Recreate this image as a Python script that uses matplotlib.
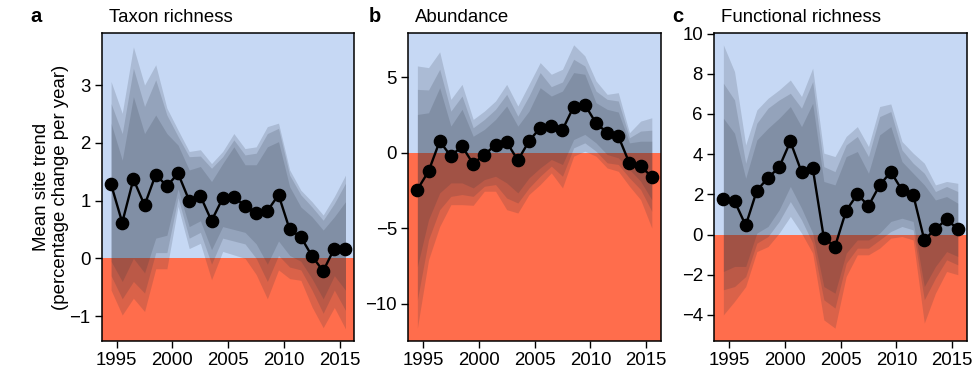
import matplotlib
matplotlib.use("Agg")
import matplotlib.pyplot as plt
import numpy as np

plt.rcParams['font.family'] = ['Liberation Sans', 'DejaVu Sans']

years = [1994.5 + i for i in range(22)]
xticks = [1995, 2000, 2005, 2010, 2015]

# Panel a: Taxon richness
a_mean = [1.28, 0.62, 1.37, 0.92, 1.45, 1.25, 1.47, 1.0, 1.08, 0.65, 1.04,
          1.07, 0.9, 0.78, 0.82, 1.1, 0.5, 0.37, 0.04, -0.22, 0.17, 0.16]
a_up3 = [3.06, 2.51, 3.66, 3.0, 3.35, 2.6, 2.22, 1.85, 1.88, 1.64, 1.85,
         2.16, 1.9, 1.93, 2.28, 2.34, 1.53, 1.18, 0.98, 0.75, 1.07, 1.44]
a_up2 = [2.68, 2.16, 3.29, 2.63, 3.09, 2.48, 2.11, 1.76, 1.77, 1.56, 1.76,
         2.05, 1.79, 1.82, 2.16, 2.25, 1.44, 1.1, 0.89, 0.66, 0.95, 1.3]
a_up1 = [2.34, 1.7, 2.8, 2.16, 2.48, 2.16, 1.96, 1.53, 1.59, 1.33, 1.64,
         1.93, 1.62, 1.62, 1.93, 2.02, 1.24, 0.89, 0.72, 0.49, 0.72, 0.98]
a_lo1 = [-0.05, -0.4, 0.0, -0.25, 0.35, 0.4, 1.2, 0.55, 0.65, 0.15, 0.55,
         0.5, 0.45, 0.25, -0.1, 0.3, 0.05, -0.05, -0.35, -0.7, -0.3, -0.55]
a_lo2 = [-0.3, -0.7, -0.4, -0.6, 0.1, 0.1, 1.05, 0.35, 0.45, -0.1, 0.35,
         0.3, 0.25, 0.0, -0.4, 0.05, -0.15, -0.2, -0.55, -0.95, -0.55, -0.9]
a_lo3 = [-0.55, -0.98, -0.69, -0.92, -0.18, -0.18, 0.9, 0.17, 0.26, -0.37, 0.12,
         0.06, 0.0, -0.28, -0.7, -0.2, -0.35, -0.38, -0.84, -1.2, -0.85, -1.22]

# Panel b: Abundance
b_mean = [-2.43, -1.22, 0.77, -0.22, 0.44, -0.73, -0.11, 0.51, 0.71, -0.49, 0.77,
          1.66, 1.75, 1.53, 3.05, 3.19, 1.97, 1.33, 1.1, -0.69, -0.88, -1.59]
b_up3 = [5.75, 5.64, 6.68, 3.54, 4.53, 2.21, 2.76, 3.43, 4.53, 3.1, 4.53,
         5.97, 5.2, 5.53, 7.15, 6.42, 4.76, 3.87, 3.98, 1.33, 2.1, 2.32]
b_up2 = [4.2, 4.16, 5.53, 2.76, 3.76, 1.66, 2.21, 2.88, 3.87, 2.43, 3.76,
         5.31, 4.38, 4.69, 6.19, 5.75, 4.09, 3.54, 3.43, 1.0, 1.44, 1.5]
b_up1 = [2.54, 2.65, 4.31, 1.77, 2.88, 1.1, 1.55, 2.21, 3.1, 1.77, 2.76,
         4.31, 3.76, 4.09, 5.31, 5.2, 3.32, 2.88, 2.7, 0.66, 0.77, 0.77]
b_lo1 = [-7.52, -4.42, -2.65, -1.99, -1.99, -2.32, -1.77, -1.55, -1.99, -2.65, -1.66,
         -1.0, -0.44, -0.77, 0.88, 1.22, 0.66, -0.11, -0.33, -1.1, -1.88, -3.1]
b_lo2 = [-9.73, -5.75, -3.76, -2.88, -2.76, -2.88, -2.21, -2.1, -2.99, -3.32, -2.32,
         -1.55, -0.88, -1.55, 0.33, 0.66, 0.11, -0.66, -0.77, -1.66, -2.43, -3.87]
b_lo3 = [-11.6, -7.08, -4.87, -3.43, -3.43, -3.47, -2.54, -2.54, -3.76, -3.98, -2.76,
         -2.1, -1.33, -2.32, -0.22, 0.11, -0.22, -1.0, -1.22, -2.21, -3.1, -4.98]

# Panel c: Functional richness
c_mean = [1.77, 1.67, 0.45, 2.19, 2.82, 3.35, 4.63, 3.12, 3.32, -0.17, -0.6,
          1.19, 2.0, 1.43, 2.45, 3.12, 2.21, 1.99, -0.27, 0.28, 0.75, 0.27]
c_up3 = [9.44, 8.11, 4.46, 6.2, 6.78, 7.2, 7.69, 6.87, 8.28, 4.05, 3.88,
         4.88, 5.37, 4.38, 6.37, 6.5, 4.63, 4.05, 3.55, 2.47, 2.64, 2.55]
c_up2 = [7.53, 6.7, 3.55, 5.54, 6.29, 6.7, 7.03, 6.29, 7.61, 3.38, 3.13,
         4.46, 4.88, 3.88, 5.87, 6.12, 4.21, 3.55, 3.05, 2.14, 2.39, 2.14]
c_up1 = [5.79, 5.04, 2.8, 4.71, 5.29, 5.79, 6.37, 5.37, 6.53, 2.64, 2.47,
         3.88, 4.13, 3.05, 4.96, 5.37, 3.63, 3.05, 2.47, 1.72, 1.89, 1.56]
c_lo1 = [-1.84, -1.59, -1.59, 0.07, 0.4, 1.23, 2.39, 1.31, 0.07, -2.59, -2.92,
         -0.93, -0.27, -0.27, 0.07, 0.65, 0.81, 0.65, -2.59, -1.59, -0.85, -1.09]
c_lo2 = [-2.75, -2.59, -2.09, -0.43, -0.1, 0.65, 1.64, 0.73, -0.43, -3.25, -3.66,
         -1.43, -0.68, -0.68, -0.27, 0.15, 0.4, 0.23, -3.25, -2.17, -1.26, -1.51]
c_lo3 = [-4.0, -3.33, -2.59, -0.85, -0.6, 0.07, 0.9, 0.07, -0.93, -4.25, -4.66,
         -2.09, -1.01, -1.01, -0.68, -0.18, -0.1, -0.27, -4.41, -2.92, -1.84, -2.0]

panels = [
    ("a", "Taxon richness", a_mean, (a_lo3, a_up3), (a_lo2, a_up2), (a_lo1, a_up1),
     (-1.43, 3.9), [-1, 0, 1, 2, 3], ["\u22121", "0", "1", "2", "3"]),
    ("b", "Abundance", b_mean, (b_lo3, b_up3), (b_lo2, b_up2), (b_lo1, b_up1),
     (-12.45, 7.93), [-10, -5, 0, 5], ["\u221210", "\u22125", "0", "5"]),
    ("c", "Functional richness", c_mean, (c_lo3, c_up3), (c_lo2, c_up2), (c_lo1, c_up1),
     (-5.3, 10.03), [-4, -2, 0, 2, 4, 6, 8, 10],
     ["\u22124", "\u22122", "0", "2", "4", "6", "8", "10"]),
]

W, H = 974, 383
fig = plt.figure(figsize=(W / 100, H / 100), dpi=100)
lefts = [101.7, 408, 714]
letter_x = [30, 369, 672]
aw = 252.5
top_px, bot_px = 33, 341

blue = "#c6d8f4"
red = "#ff6d4c"
band_col = "#26303e"

for (letter, title, mean, b3, b2, b1, ylim, yt, ytl), lx, ltx in zip(panels, lefts, letter_x):
    ax = fig.add_axes([lx / W, 1 - bot_px / H, aw / W, (bot_px - top_px) / H])
    ax.set_xlim(1993.66, 2016.28)
    ax.set_ylim(*ylim)
    ax.axhspan(0, ylim[1], color=blue, lw=0, zorder=0)
    ax.axhspan(ylim[0], 0, color=red, lw=0, zorder=0)
    for lo, up in (b3, b2, b1):
        ax.fill_between(years, lo, up, color=band_col, alpha=0.17, lw=0, zorder=1)
    ax.plot(years, mean, color="black", lw=1.7, marker="o", ms=8.8,
            mec="black", mfc="black", zorder=3)
    ax.set_xticks(xticks)
    ax.set_yticks(yt)
    ax.set_yticklabels(ytl)
    ax.tick_params(direction="out", length=5, width=1, labelsize=13.4, pad=3,
                   color="black")
    for s in ax.spines.values():
        s.set_linewidth(1.1)
        s.set_zorder(5)
    fig.text(ltx / W, 1 - 17 / H, letter, fontsize=14.5, fontweight="bold",
             ha="left", va="center")
    fig.text((lx + 7) / W, 1 - 17 / H, title, fontsize=13.4, ha="left", va="center")
    if letter == "a":
        ax.set_ylabel("Mean site trend\n(percentage change per year)", fontsize=13.4,
                      labelpad=0.5, linespacing=1.1)

fig.savefig("out.png", dpi=100)
